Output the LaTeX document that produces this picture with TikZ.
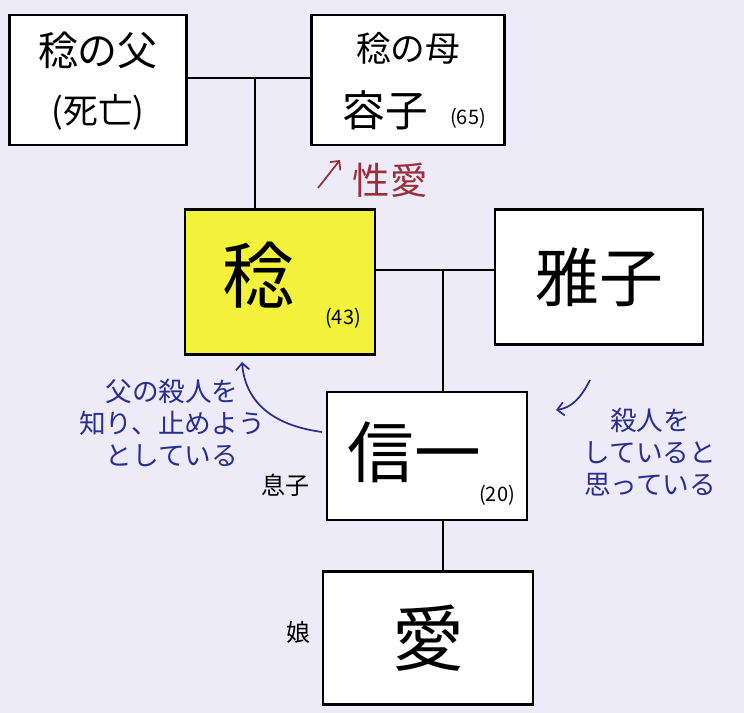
\documentclass[tikz,border=0pt]{standalone}
\usepackage{fontspec}
\usetikzlibrary{arrows.meta}
\newfontfamily\jp{Noto Sans CJK JP}
\definecolor{bg}{HTML}{EEEBF9}
\definecolor{ybox}{HTML}{F2F23C}
\definecolor{red1}{HTML}{9A2F3A}
\definecolor{blue1}{HTML}{2A2F8F}
\tikzset{pbox/.style={draw=black,line width=2.2pt,fill=white},
 link/.style={line width=2.2pt},
 note/.style={blue1,align=center,font=\jp\fontsize{20}{24}\selectfont},
 small/.style={font=\jp\fontsize{15}{17}\selectfont}}
\begin{document}
\begin{tikzpicture}[x=0.75pt,y=-0.75pt]
\fill[bg] (0,0) rectangle (744,713);
\useasboundingbox (0,0) rectangle (744,713);
% boxes
\node[pbox,minimum width=177*0.75pt,minimum height=130*0.75pt] (fa) at (98,80) {};
\node[pbox,minimum width=193*0.75pt,minimum height=130*0.75pt] (mo) at (408,80) {};
\node[pbox,fill=ybox,minimum width=190*0.75pt,minimum height=145*0.75pt] (mi) at (280,282) {};
\node[pbox,minimum width=208*0.75pt,minimum height=135*0.75pt] (ma) at (599,277) {};
\node[pbox,minimum width=200*0.75pt,minimum height=128*0.75pt] (sh) at (427,456) {};
\node[pbox,minimum width=210*0.75pt,minimum height=133*0.75pt] (ai) at (428,638) {};
% texts
\node[font=\jp\fontsize{30}{34}\selectfont] (fat) at (98,50) {稔の父};
\node[font=\jp\fontsize{26}{30}\selectfont] (fat2) at (98,112) {(死亡)};
\node[font=\jp\fontsize{26}{30}\selectfont] (mot) at (408,48) {稔の母};
\node[font=\jp\fontsize{32}{36}\selectfont] (mot2) at (385,110) {容子};
\node[small] (mot3) at (468,118) {(65)};
\node[font=\jp\fontsize{54}{60}\selectfont] (mit) at (258,275) {稔};
\node[small] (mit2) at (343,318) {(43)};
\node[font=\jp\fontsize{48}{54}\selectfont] (mat) at (599,277) {雅子};
\node[font=\jp\fontsize{50}{56}\selectfont] (sht) at (414,452) {信一};
\node[small] (sht2) at (497,495) {(20)};
\node[font=\jp\fontsize{54}{60}\selectfont] (ait) at (428,638) {愛};
\node[font=\jp\fontsize{18}{20}\selectfont] (son) at (285,485) {息子};
\node[font=\jp\fontsize{18}{20}\selectfont] (dau) at (298,632) {娘};
% links
\coordinate (c1) at (255,78);
\coordinate (c2) at (443,270);
\draw[link] (fa.east|-c1) -- (mo.west|-c1);
\draw[link] (c1) -- (mi.north-|c1);
\draw[link] (mi.east|-c2) -- (ma.west|-c2);
\draw[link] (c2) -- (sh.north-|c2);
\draw[link] (sh.south-|c2) -- (ai.north-|c2);
% annotations
\node[red1,font=\jp\fontsize{28}{32}\selectfont] (sei) at (390,180) {性愛};
\coordinate (r1) at (318,188);
\coordinate (r2) at (340,160);
\draw[red1,line width=1.3pt,-{Straight Barb[length=5pt]}] (r1) -- (r2);
\node[note] (n1) at (172,423) {父の殺人を\\知り、止めよう\\としている};
\node[note] (n2) at (650,452) {殺人を\\していると\\思っている};
\coordinate (a1) at (322,432);
\coordinate (a2) at (242,362);
\draw[blue1,line width=1.3pt,-{Straight Barb[length=5pt]}] (a1) .. controls (270,425) and (245,400) .. (a2);
\coordinate (b1) at (590,380);
\coordinate (b2) at (556,410);
\draw[blue1,line width=1.3pt,-{Straight Barb[length=5pt]}] (b1) .. controls (580,400) and (570,408) .. (b2);
\end{tikzpicture}
\end{document}
